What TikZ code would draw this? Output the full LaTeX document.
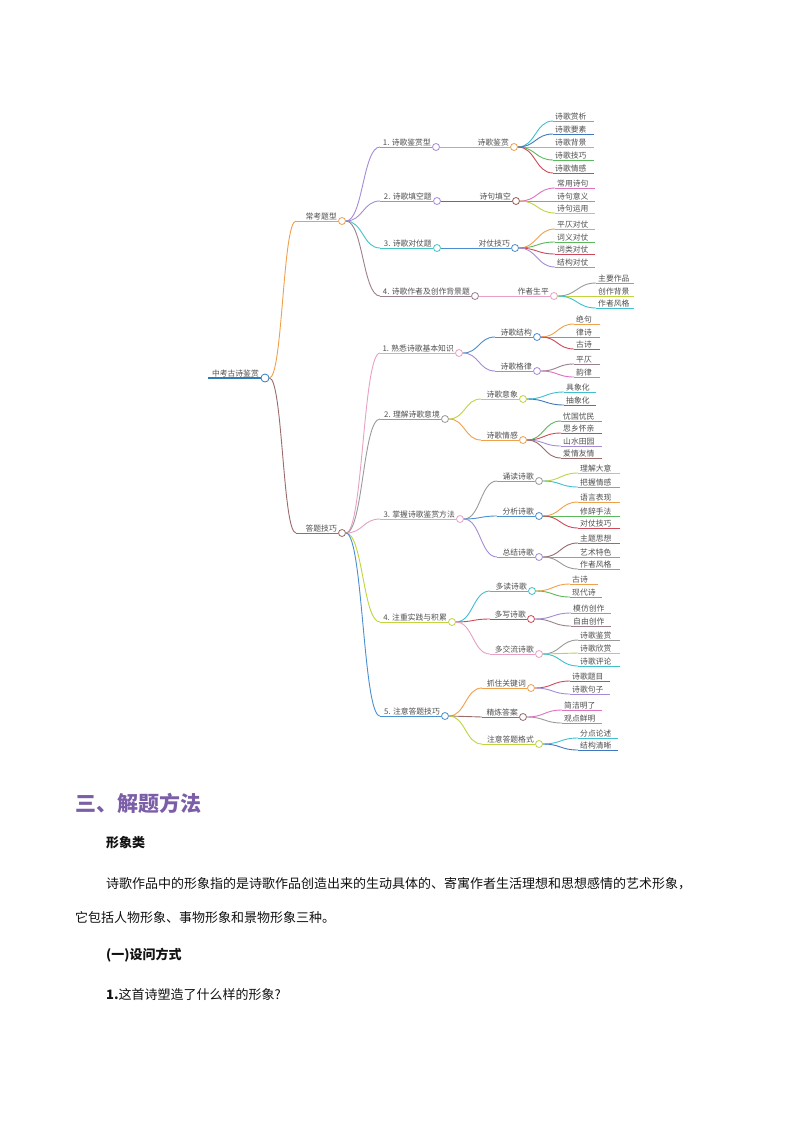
\documentclass[tikz,border=0pt]{standalone}
\usepackage{fontspec}
\setmainfont{Noto Sans CJK SC}
\usetikzlibrary{calc}
\definecolor{cOrange}{HTML}{F0A04B}
\definecolor{cPurple}{HTML}{A58BD6}
\definecolor{cTeal}{HTML}{45C4C4}
\definecolor{cMauve}{HTML}{9C7F8F}
\definecolor{cBrownRed}{HTML}{9A5A5A}
\definecolor{cBlue}{HTML}{4A8FD0}
\definecolor{cPink}{HTML}{E8A0C4}
\definecolor{cMagenta}{HTML}{E070C0}
\definecolor{cGray}{HTML}{9A9A9A}
\definecolor{cYG}{HTML}{BFD43F}
\definecolor{cGreen}{HTML}{5CB85C}
\definecolor{cRed}{HTML}{D0475A}
\definecolor{cCyan}{HTML}{3EC0D0}
\definecolor{cDarkBlue}{HTML}{3F78C0}
\definecolor{cBrown}{HTML}{9A6B6B}
\definecolor{cRoot}{HTML}{2E7BB8}
\definecolor{cLabel}{HTML}{505050}
\definecolor{cTitle}{HTML}{7B5EA7}
\definecolor{cBody}{HTML}{111111}
\tikzset{
  mdot/.style={circle,fill=white,line width=0.8pt,minimum size=7pt,inner sep=0pt},
  branch/.style={line width=0.9pt},
  leafline/.style={line width=1pt},
  lbl/.style={font=\fontsize{7.8}{9}\selectfont,text=cLabel,inner sep=0pt},
  body/.style={font=\fontsize{13}{16}\selectfont,text=cBody,inner sep=0pt,anchor=west},
}
\newcommand\mnode[6]{%
  \coordinate (#1-s) at (#2,#4);
  \node[mdot,draw=#6] (#1) at (#3,#4) {};
  \draw[branch,#6] (#1-s) -- (#1.west);
  \node[lbl,anchor=south east] (#1-t) at ({#3-5},{#4-1}) {#5};}
\newcommand\mleaf[6]{%
  \coordinate (#1-s) at (#2,#4);
  \coordinate (#1-e) at (#3,#4);
  \draw[leafline,#6] (#1-s) -- (#1-e);
  \node[lbl,anchor=south west] (#1-t) at ({#2+2},{#4-1}) {#5};}
\newcommand\mconn[3]{%
  \path ($(#1.east)!0.5!(#2-s)$) coordinate (#2-m);
  \draw[branch,#3] (#1.east) .. controls (#2-m |- #1.east) and (#2-m |- #2-s) .. (#2-s);}
\begin{document}
\begin{tikzpicture}[x=1pt,y=-1pt]
\useasboundingbox[fill=white] (0,0) rectangle (800,1132);
% root
\coordinate (root-s) at (208,378);
\node[mdot,draw=cRoot,minimum size=8pt] (root) at (265,378) {};
\draw[cRoot,line width=2pt] (root-s) -- (root.west);
\node[lbl,anchor=south east] (root-t) at (259,377) {中考古诗鉴赏};
% level 1
\mnode{ck}{296}{342}{221}{常考题型}{cOrange}
\mnode{dt}{296}{342}{533}{答题技巧}{cBrown}
% level 2 under ck
\mnode{ckA}{380}{436}{147}{1. 诗歌鉴赏型}{cPurple}
\mnode{ckB}{380}{437}{201}{2. 诗歌填空题}{cPurple}
\mnode{ckC}{380}{437}{248}{3. 诗歌对仗题}{cTeal}
\mnode{ckD}{380}{475}{296}{4. 诗歌作者及创作背景题}{cMauve}
% level 3 under ck
\mnode{ckAa}{470}{514}{147}{诗歌鉴赏}{cOrange}
\mnode{ckBa}{472}{516}{201}{诗句填空}{cBrownRed}
\mnode{ckCa}{472}{515}{248}{对仗技巧}{cBlue}
\mnode{ckDa}{510}{554}{296}{作者生平}{cPink}
% leaves
\mleaf{l1}{553}{594}{121}{诗歌赏析}{cCyan}
\mleaf{l2}{553}{594}{134}{诗歌要素}{cDarkBlue}
\mleaf{l3}{553}{594}{147}{诗歌背景}{cOrange}
\mleaf{l4}{553}{594}{160}{诗歌技巧}{cGreen}
\mleaf{l5}{553}{594}{173}{诗歌情感}{cRed}
\mleaf{l6}{555}{595}{188}{常用诗句}{cMagenta}
\mleaf{l7}{555}{595}{201}{诗句意义}{cGray}
\mleaf{l8}{555}{595}{213}{诗句运用}{cYG}
\mleaf{l9}{555}{595}{229}{平仄对仗}{cOrange}
\mleaf{l10}{555}{595}{242}{词义对仗}{cGreen}
\mleaf{l11}{555}{595}{254}{词类对仗}{cRed}
\mleaf{l12}{555}{595}{267}{结构对仗}{cPurple}
\mleaf{l13}{596}{634}{283}{主要作品}{cGray}
\mleaf{l14}{596}{634}{296}{创作背景}{cYG}
\mleaf{l15}{596}{634}{308}{作者风格}{cCyan}
% level 2 under dt
\mnode{dtA}{380}{459}{353}{1. 熟悉诗歌基本知识}{cPink}
\mnode{dtB}{380}{445}{419}{2. 理解诗歌意境}{cGray}
\mnode{dtC}{380}{460}{519}{3. 掌握诗歌鉴赏方法}{cPink}
\mnode{dtD}{380}{452}{622}{4. 注重实践与积累}{cYG}
\mnode{dtE}{380}{445}{716}{5. 注意答题技巧}{cBlue}
% level 3 under dt
\mnode{dtAa}{495}{537}{337}{诗歌结构}{cBlue}
\mnode{dtAb}{495}{537}{371}{诗歌格律}{cPurple}
\mnode{dtBa}{481}{523}{399}{诗歌意象}{cYG}
\mnode{dtBb}{481}{523}{440}{诗歌情感}{cOrange}
\mnode{dtCa}{497}{539}{481}{诵读诗歌}{cGray}
\mnode{dtCb}{497}{539}{516}{分析诗歌}{cBlue}
\mnode{dtCc}{497}{539}{557}{总结诗歌}{cPurple}
\mnode{dtDa}{490}{532}{591}{多读诗歌}{cCyan}
\mnode{dtDb}{490}{531}{619}{多写诗歌}{cRed}
\mnode{dtDc}{490}{539}{654}{多交流诗歌}{cPink}
\mnode{dtEa}{482}{531}{688}{抓住关键词}{cOrange}
\mnode{dtEb}{482}{523}{717}{精炼答案}{cBrown}
\mnode{dtEc}{482}{539}{744}{注意答题格式}{cYG}
% leaves under dt
\mleaf{m1}{574}{600}{324}{绝句}{cOrange}
\mleaf{m2}{574}{600}{337}{律诗}{cGreen}
\mleaf{m3}{574}{600}{349}{古诗}{cRed}
\mleaf{m4}{574}{600}{364}{平仄}{cMauve}
\mleaf{m5}{574}{600}{377}{韵律}{cMagenta}
\mleaf{m6}{564}{596}{392}{具象化}{cCyan}
\mleaf{m7}{564}{596}{405}{抽象化}{cDarkBlue}
\mleaf{m8}{561}{602}{421}{忧国忧民}{cGreen}
\mleaf{m9}{561}{602}{433}{思乡怀亲}{cRed}
\mleaf{m10}{561}{602}{446}{山水田园}{cPurple}
\mleaf{m11}{561}{602}{458}{爱情友情}{cBrown}
\mleaf{m12}{578}{620}{473}{理解大意}{cYG}
\mleaf{m13}{578}{620}{487}{把握情感}{cCyan}
\mleaf{m14}{578}{620}{502}{语言表现}{cOrange}
\mleaf{m15}{578}{620}{516}{修辞手法}{cGreen}
\mleaf{m16}{578}{620}{528}{对仗技巧}{cRed}
\mleaf{m17}{578}{620}{543}{主题思想}{cBrown}
\mleaf{m18}{578}{620}{557}{艺术特色}{cMagenta}
\mleaf{m19}{578}{620}{569}{作者风格}{cGray}
\mleaf{m20}{570}{598}{584}{古诗}{cOrange}
\mleaf{m21}{570}{602}{597}{现代诗}{cGreen}
\mleaf{m22}{571}{611}{613}{模仿创作}{cPurple}
\mleaf{m23}{571}{611}{626}{自由创作}{cMauve}
\mleaf{m24}{578}{620}{640}{诗歌鉴赏}{cGray}
\mleaf{m25}{578}{620}{653}{诗歌欣赏}{cYG}
\mleaf{m26}{578}{620}{666}{诗歌评论}{cCyan}
\mleaf{m27}{570}{610}{681}{诗歌题目}{cRed}
\mleaf{m28}{570}{610}{694}{诗歌句子}{cPurple}
\mleaf{m29}{562}{602}{710}{简洁明了}{cMagenta}
\mleaf{m30}{562}{602}{723}{观点鲜明}{cGray}
\mleaf{m31}{578}{618}{738}{分点论述}{cCyan}
\mleaf{m32}{578}{618}{750}{结构清晰}{cDarkBlue}
% connectors
\mconn{root}{ck}{cOrange}
\mconn{root}{dt}{cBrown}
\mconn{ck}{ckA}{cPurple}
\mconn{ck}{ckB}{cPurple}
\mconn{ck}{ckC}{cTeal}
\mconn{ck}{ckD}{cMauve}
\mconn{ckA}{ckAa}{cOrange}
\mconn{ckB}{ckBa}{cBrownRed}
\mconn{ckC}{ckCa}{cBlue}
\mconn{ckD}{ckDa}{cPink}
\mconn{ckAa}{l1}{cCyan}
\mconn{ckAa}{l2}{cDarkBlue}
\mconn{ckAa}{l3}{cOrange}
\mconn{ckAa}{l4}{cGreen}
\mconn{ckAa}{l5}{cRed}
\mconn{ckBa}{l6}{cMagenta}
\mconn{ckBa}{l7}{cGray}
\mconn{ckBa}{l8}{cYG}
\mconn{ckCa}{l9}{cOrange}
\mconn{ckCa}{l10}{cGreen}
\mconn{ckCa}{l11}{cRed}
\mconn{ckCa}{l12}{cPurple}
\mconn{ckDa}{l13}{cGray}
\mconn{ckDa}{l14}{cYG}
\mconn{ckDa}{l15}{cCyan}
\mconn{dt}{dtA}{cPink}
\mconn{dt}{dtB}{cGray}
\mconn{dt}{dtC}{cPink}
\mconn{dt}{dtD}{cYG}
\mconn{dt}{dtE}{cBlue}
\mconn{dtA}{dtAa}{cBlue}
\mconn{dtA}{dtAb}{cPurple}
\mconn{dtB}{dtBa}{cYG}
\mconn{dtB}{dtBb}{cOrange}
\mconn{dtC}{dtCa}{cGray}
\mconn{dtC}{dtCb}{cBlue}
\mconn{dtC}{dtCc}{cPurple}
\mconn{dtD}{dtDa}{cCyan}
\mconn{dtD}{dtDb}{cRed}
\mconn{dtD}{dtDc}{cPink}
\mconn{dtE}{dtEa}{cOrange}
\mconn{dtE}{dtEb}{cBrown}
\mconn{dtE}{dtEc}{cYG}
\mconn{dtAa}{m1}{cOrange}
\mconn{dtAa}{m2}{cGreen}
\mconn{dtAa}{m3}{cRed}
\mconn{dtAb}{m4}{cMauve}
\mconn{dtAb}{m5}{cMagenta}
\mconn{dtBa}{m6}{cCyan}
\mconn{dtBa}{m7}{cDarkBlue}
\mconn{dtBb}{m8}{cGreen}
\mconn{dtBb}{m9}{cRed}
\mconn{dtBb}{m10}{cPurple}
\mconn{dtBb}{m11}{cBrown}
\mconn{dtCa}{m12}{cYG}
\mconn{dtCa}{m13}{cCyan}
\mconn{dtCb}{m14}{cOrange}
\mconn{dtCb}{m15}{cGreen}
\mconn{dtCb}{m16}{cRed}
\mconn{dtCc}{m17}{cBrown}
\mconn{dtCc}{m18}{cMagenta}
\mconn{dtCc}{m19}{cGray}
\mconn{dtDa}{m20}{cOrange}
\mconn{dtDa}{m21}{cGreen}
\mconn{dtDb}{m22}{cPurple}
\mconn{dtDb}{m23}{cMauve}
\mconn{dtDc}{m24}{cGray}
\mconn{dtDc}{m25}{cYG}
\mconn{dtDc}{m26}{cCyan}
\mconn{dtEa}{m27}{cRed}
\mconn{dtEa}{m28}{cPurple}
\mconn{dtEb}{m29}{cMagenta}
\mconn{dtEb}{m30}{cGray}
\mconn{dtEc}{m31}{cCyan}
\mconn{dtEc}{m32}{cDarkBlue}
% text below
\node[anchor=west,inner sep=0pt,text=cTitle,font=\fontsize{21}{25}\bfseries\selectfont] (title) at (75,803) {三、解题方法};
\node[body,font=\fontsize{13}{16}\bfseries\selectfont] (sub1) at (106,843) {形象类};
\node[body] (p1) at (106,884) {诗歌作品中的形象指的是诗歌作品创造出来的生动具体的、寄寓作者生活理想和思想感情的艺术形象，};
\node[body] (p2) at (75,918) {它包括人物形象、事物形象和景物形象三种。};
\node[body,font=\fontsize{13}{16}\bfseries\selectfont] (sub2) at (106,955) {(一)设问方式};
\node[body] (q1) at (106,995) {\textbf{1.}这首诗塑造了什么样的形象?};
\end{tikzpicture}
\end{document}
